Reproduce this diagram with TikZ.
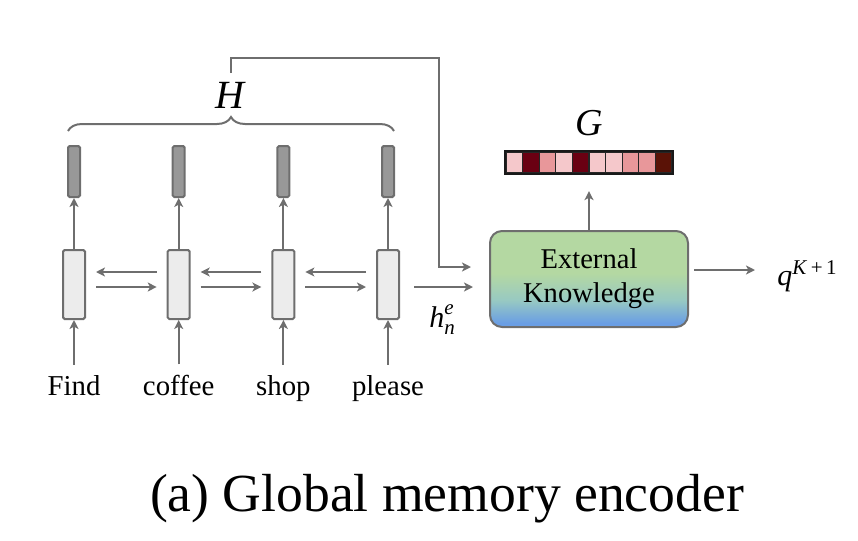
\documentclass[tikz,border=0pt]{standalone}
\usepackage{amsmath}
\usepackage{fontspec}
\setmainfont{Liberation Serif}
\usetikzlibrary{arrows.meta,decorations.pathreplacing,calc}
\definecolor{ln}{HTML}{6E6E6E}
\definecolor{cellfill}{HTML}{ECECEC}
\definecolor{hidfill}{HTML}{989898}
\definecolor{ekgreen}{HTML}{B4D8A2}
\definecolor{ekteal}{HTML}{98C9C2}
\definecolor{ekblue}{HTML}{6A9EE4}
\definecolor{gl}{HTML}{F5C8CB}
\definecolor{gm}{HTML}{E8979A}
\definecolor{gd}{HTML}{6A0012}
\definecolor{gx}{HTML}{5A1206}
\pgfdeclareverticalshading{ekshade}{100bp}{color(0bp)=(ekblue); color(27bp)=(ekblue); color(39bp)=(ekteal); color(53bp)=(ekgreen); color(100bp)=(ekgreen)}
\tikzset{
  arr/.style={draw=ln, line width=1pt, -{Stealth[length=4.5pt,width=4.5pt,inset=1.2pt]}},
  cellbox/.style={draw=ln, fill=cellfill, line width=1pt, minimum width=11pt, minimum height=34.5pt, inner sep=0pt, rounded corners=0.8pt},
  hidbox/.style={draw=ln, fill=hidfill, line width=1pt, minimum width=6pt, minimum height=25.5pt, inner sep=0pt, rounded corners=0.8pt},
  word/.style={font=\fontsize{14.4}{17}\selectfont, inner sep=0pt, anchor=base},
  ekbox/.style={draw=ln, line width=1pt, shading=ekshade, rounded corners=6pt, minimum width=99pt, minimum height=48pt, align=center, font=\fontsize{14.3}{17}\selectfont, inner sep=0pt},
  gcell/.style={draw=black!85, line width=0.6pt, minimum width=8.3pt, minimum height=10.5pt, inner sep=0pt},
  mlbl/.style={inner sep=0pt},
}
\begin{document}
\begin{tikzpicture}[x=0.5pt,y=-0.5pt]
\useasboundingbox (0,0) rectangle (858,541);
% LSTM cells
\foreach \i/\x in {1/74,2/178.7,3/283.4,4/388} {
  \node[cellbox] (c\i) at (\x,284.5) {};
  \node[hidbox] (d\i) at (\x,171.5) {};
  \draw[arr] (c\i.north) -- (d\i.south);
}
\node[word] (w1) at (74,395) {Find};
\node[word] (w2) at (178.7,395) {coffee};
\node[word] (w3) at (283.4,395) {shop};
\node[word] (w4) at (388,395) {please};
\foreach \i in {1,...,4} { \draw[arr, shorten <=5pt] (w\i.north) -- (c\i.south); }
% bidirectional arrows
\foreach \a/\b in {1/2,2/3,3/4} {
  \draw[arr] ($(c\b.west)+(-10,-12.5)$) -- ($(c\a.east)+(10,-12.5)$);
  \draw[arr] ($(c\a.east)+(10,2.5)$) -- ($(c\b.west)+(-10,2.5)$);
}
% brace and H
\draw[ln, line width=1pt, decorate, decoration={brace, amplitude=7pt}] ($(d1.north west)+(1,-14)$) -- ($(d4.north east)+(-1,-14)$);
\node[mlbl, font=\fontsize{20}{24}\selectfont] (H) at (231,95.5) {\textit{H}};
% External knowledge
\node[ekbox] (ek) at (589,279) {External\\Knowledge};
\coordinate (tl) at (231,58);
\coordinate (tr) at (439,58);
\draw[arr] ($(H.north)+(0,-9)$) -- (tl) -- (tr) |- ($(ek.west)+(-18,-12)$);
\draw[arr] ($(c4.east)+(14,2.5)$) -- ($(ek.west)+(-16,8)$);
\node[mlbl, anchor=base west, font=\fontsize{15}{18}\selectfont] (hn) at (429,327) {$\textit{h}_{\textit{n}}^{\textit{e}}$};
% G bar
\node[draw=black!90, line width=1.1pt, minimum width=83pt, minimum height=10.5pt, inner sep=0pt] (bar) at (589,162.5) {};
\foreach \k/\c in {1/gl,2/gd,3/gm,4/gl,5/gd,6/gl,7/gl,8/gm,9/gm,10/gx} {
  \node[gcell, fill=\c] (g\k) at ({506+16.6*(\k-0.5)},162.5) {};
}
\draw[black!90, line width=1.1pt] (bar.north west) rectangle (bar.south east);
\node[mlbl, font=\fontsize{19}{22}\selectfont] (G) at (589,123) {\textit{G}};
\draw[arr] (ek.north) -- ($(bar.south)+(0,17)$);
% output
\node[mlbl, anchor=base west, font=\fontsize{15}{18}\selectfont] (q) at (777,285) {$\textit{q}^{\text{\textit{K}\,+\,1}}$};
\draw[arr] ($(ek.east)+(5,-9)$) -- ($(q.west |- ek.east)+(-22,-9)$);
% caption
\node[anchor=base, inner sep=0pt, font=\fontsize{26.8}{32}\selectfont] (cap) at (447,511) {(a) Global memory encoder};
\end{tikzpicture}
\end{document}
